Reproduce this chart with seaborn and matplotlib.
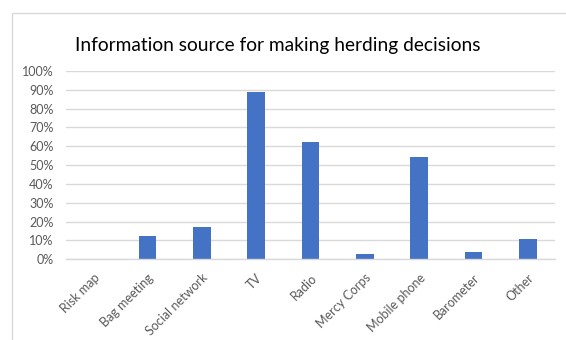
import matplotlib
matplotlib.use("Agg")
import matplotlib.pyplot as plt
import matplotlib.patches as mpatches
from matplotlib.ticker import PercentFormatter, MultipleLocator
import seaborn as sns
import pandas as pd

# Share of respondents using each information source
sources = ["Risk map", "Bag meeting", "Social network", "TV", "Radio",
           "Mercy Corps", "Mobile phone", "Barometer", "Other"]
shares = [0.0, 0.125, 0.173, 0.887, 0.621, 0.027, 0.542, 0.037, 0.106]

df = pd.DataFrame({"source": sources, "share": shares})

sns.set_theme(style="white")
plt.rcParams["font.family"] = ["Lato", "DejaVu Sans"]

fig = plt.figure(figsize=(5.66, 3.40), dpi=100)
ax = fig.add_axes([0.1166, 0.2374, 0.864, 0.5538])

sns.barplot(data=df, x="source", y="share", color="#4472C4", width=0.32,
            saturation=1, edgecolor="none", ax=ax)

ax.set_ylim(0, 1.0)
ax.yaxis.set_major_locator(MultipleLocator(0.1))
ax.yaxis.set_major_formatter(PercentFormatter(1.0, decimals=0))
ax.grid(axis="y", color="#D9D9D9", linewidth=1.0)
ax.set_axisbelow(True)
for side in ["top", "right", "left"]:
    ax.spines[side].set_visible(False)
ax.spines["bottom"].set_color("#D9D9D9")
ax.spines["bottom"].set_linewidth(1.0)
ax.set_xlabel("")
ax.set_ylabel("")
ax.tick_params(axis="both", length=0, colors="#595959", labelsize=9)
ax.tick_params(axis="y", pad=9)
ax.tick_params(axis="x", pad=9)
for lbl in ax.get_xticklabels():
    lbl.set_rotation(45)
    lbl.set_ha("right")
    lbl.set_rotation_mode("anchor")

fig.text(0.490, 0.867, "Information source for making herding decisions",
         ha="center", va="center", fontsize=13.8, color="#000000")

# Chart-area frame
fig.patches.append(mpatches.Rectangle((11.5 / 566, -0.1), 1.0, 1.0618,
                                      transform=fig.transFigure, fill=False,
                                      edgecolor="#D9D9D9", linewidth=1.0))

fig.savefig("out.png", dpi=100, facecolor="white")
